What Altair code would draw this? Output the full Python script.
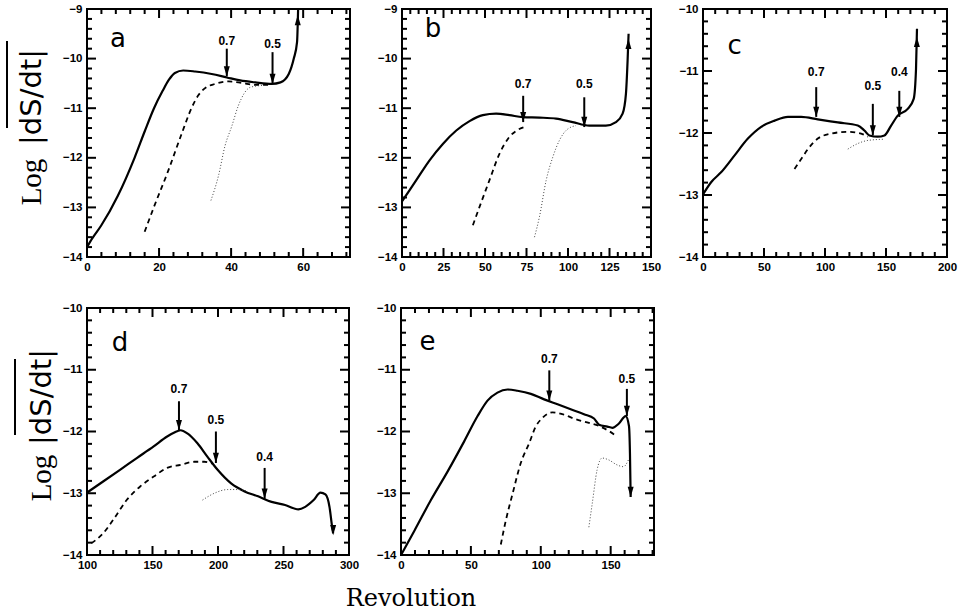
import altair as alt
import pandas as pd

# ---------------- data ----------------
# panel a
a_sol_x = [0, 1.5, 3.9, 8.6, 13.2, 16, 18.6, 21, 22.8, 24.4, 26.7, 30, 34.6, 38.8, 42.5, 46.7, 51.3, 53.7, 56, 57.4, 58.3, 58.6]
a_sol_y = [-13.8, -13.62, -13.37, -12.76, -12.0, -11.47, -11.0, -10.65, -10.42, -10.29, -10.24, -10.26, -10.31, -10.38, -10.44, -10.48, -10.51, -10.48, -10.31, -10.0, -9.67, -9.0]
a_dash_x = [16, 18.8, 22.5, 26.2, 29, 30.9, 32.7, 35.5, 39.3, 43, 46.7, 51.3]
a_dash_y = [-13.49, -12.95, -12.27, -11.53, -11.0, -10.74, -10.6, -10.51, -10.46, -10.49, -10.53, -10.53]
a_dot_x = [34.4, 36.5, 38.3, 40.2, 42, 45.3, 48.6]
a_dot_y = [-12.86, -12.36, -11.76, -11.36, -10.95, -10.58, -10.54]
a_arr_x = [38.8, 51.5]
a_arr_lab = ["0.7", "0.5"]
a_arr_ly = [-9.64, -9.70]
a_arr_top = [-9.8, -9.87]
a_arr_bot = [-10.36, -10.51]
a_end = (58.5, -9.12, "up")

# panel b
b_sol_x = [0, 8.6, 16.6, 24.6, 32.7, 40.7, 48.7, 56.7, 64.7, 72.7, 82.8, 92.8, 102.8, 112.8, 122.8, 128.9, 132.9, 134.9, 135.9, 136.5]
b_sol_y = [-12.88, -12.45, -12.05, -11.72, -11.45, -11.26, -11.14, -11.11, -11.14, -11.18, -11.19, -11.21, -11.28, -11.35, -11.35, -11.28, -11.11, -10.71, -10.04, -9.5]
b_dash_x = [42.7, 46.7, 52.7, 58.7, 64.7, 70.7, 74.7]
b_dash_y = [-13.36, -12.99, -12.45, -11.92, -11.58, -11.42, -11.37]
b_dot_x = [79.8, 82.8, 86.8, 90.8, 94.8, 98.8, 104.8]
b_dot_y = [-13.6, -13.19, -12.46, -11.99, -11.65, -11.45, -11.35]
b_arr_x = [73, 109.8]
b_arr_lab = ["0.7", "0.5"]
b_arr_ly = [-10.51, -10.51]
b_arr_top = [-10.75, -10.78]
b_arr_bot = [-11.28, -11.38]
b_end = (136.4, -9.6, "up")

# panel c
c_sol_x = [0, 6.8, 15, 25.9, 36.8, 47.7, 58.7, 69.6, 80.5, 94.1, 110.5, 126.9, 132.3, 136.4, 143.2, 148.7, 154.2, 159.6, 167.8, 172.7, 174.6, 175.4]
c_sol_y = [-12.99, -12.79, -12.63, -12.36, -12.09, -11.90, -11.80, -11.74, -11.74, -11.78, -11.83, -11.88, -11.96, -12.04, -12.06, -12.04, -11.88, -11.72, -11.61, -11.45, -10.97, -10.32]
c_dash_x = [75, 80.5, 86, 94.1, 105, 118.7, 129.6, 135.1]
c_dash_y = [-12.58, -12.42, -12.26, -12.09, -12.01, -11.98, -12.01, -12.06]
c_dot_x = [118.7, 126.9, 135.1, 148.7]
c_dot_y = [-12.26, -12.17, -12.12, -12.10]
c_arr_x = [92.8, 139.2, 160.9]
c_arr_lab = ["0.7", "0.5", "0.4"]
c_arr_ly = [-11.02, -11.24, -11.02]
c_arr_top = [-11.26, -11.53, -11.32]
c_arr_bot = [-11.74, -12.04, -11.74]
c_end = (175.3, -10.45, "up")

# panel d
d_sol_x = [100, 112.3, 125.2, 138, 150.9, 161.2, 166.3, 171.5, 176.6, 184.3, 192, 199.7, 210, 220.3, 230.6, 240.9, 251.2, 261.4, 266.6, 273, 278.2, 282, 285.1, 287.1, 287.9]
d_sol_y = [-12.99, -12.81, -12.62, -12.43, -12.24, -12.08, -12.02, -11.98, -12.03, -12.19, -12.41, -12.62, -12.84, -12.97, -13.05, -13.14, -13.19, -13.26, -13.22, -13.11, -12.99, -13.02, -13.22, -13.54, -13.65]
d_dash_x = [103.3, 112.3, 120, 130.3, 140.6, 150.9, 161.2, 171.5, 181.7, 189.5, 195.9]
d_dash_y = [-13.81, -13.65, -13.43, -13.11, -12.89, -12.73, -12.59, -12.54, -12.49, -12.49, -12.52]
d_dot_x = [188.2, 197.2, 207.5, 215.2, 222.9]
d_dot_y = [-13.11, -13.0, -12.94, -12.94, -12.97]
d_arr_x = [170.2, 198.4, 235.6]
d_arr_lab = ["0.7", "0.5", "0.4"]
d_arr_ly = [-11.31, -11.81, -12.41]
d_arr_top = [-11.51, -12.0, -12.59]
d_arr_bot = [-11.98, -12.51, -13.09]
d_end = (287.9, -13.68, "down")

# panel e
e_sol_x = [0, 9.5, 21.4, 33.3, 45.2, 54.8, 61.9, 69, 76.2, 83.3, 92.9, 102.4, 112, 121.4, 130.9, 138.1, 141.7, 147.6, 151.2, 155.9, 160.7, 163.1, 163.8, 164.3]
e_sol_y = [-14.0, -13.61, -13.11, -12.65, -12.16, -11.75, -11.50, -11.37, -11.32, -11.34, -11.39, -11.48, -11.56, -11.64, -11.72, -11.79, -11.89, -11.92, -11.94, -11.87, -11.75, -11.91, -12.35, -13.06]
e_dash_x = [71.4, 75, 79.8, 85.7, 91.7, 96.4, 101.2, 108.3, 115.4, 124.9, 134.4, 141.5, 148.6, 154.5]
e_dash_y = [-13.83, -13.44, -13.01, -12.51, -12.19, -11.92, -11.78, -11.69, -11.72, -11.80, -11.86, -11.91, -11.99, -12.08]
e_dot_x = [134.4, 136.8, 140.3, 143.9, 148.6, 154.5, 159.2, 162.7]
e_dot_y = [-13.55, -13.17, -12.62, -12.43, -12.46, -12.54, -12.57, -12.46]
e_arr_x = [106.1, 161.6]
e_arr_lab = ["0.7", "0.5"]
e_arr_ly = [-10.82, -11.15]
e_arr_top = [-11.01, -11.31]
e_arr_bot = [-11.5, -11.75]
e_end = (164.3, -13.06, "down")

# axes
a_xdom, a_xmaj, a_xstep = [0, 73], [0, 20, 40, 60], 4
b_xdom, b_xmaj, b_xstep = [0, 150], [0, 25, 50, 75, 100, 125, 150], 5
c_xdom, c_xmaj, c_xstep = [0, 200], [0, 50, 100, 150, 200], 10
d_xdom, d_xmaj, d_xstep = [100, 300], [100, 150, 200, 250, 300], 10
e_xdom, e_xmaj, e_xstep = [0, 181], [0, 50, 100, 150], 10
ydom_top9 = [-14, -9]
ydom_top10 = [-14, -10]

letters = ["a", "b", "c", "d", "e"]
letter_x = [8.6, 18.6, 25.9, 125.2, 18.9]
letter_y = [-9.6, -9.4, -10.59, -10.57, -10.55]

YT_LOG = "Log"
YT_RATE = "|dS/dt|"
XTITLE = "Revolution"

LF = "Liberation Sans"
SERIF = "Liberation Serif"

DOWN_HEAD = "M-1,-3.4L1,-3.4L0,0Z"
UP_HEAD = "M-1,3.4L1,3.4L0,0Z"


def minor_ticks(dom, step, majors):
    out = []
    v = dom[0]
    while v <= dom[1] + 1e-9:
        if all(abs(v - m) > 1e-9 for m in majors):
            out.append(round(v, 4))
        v += step
    return out


def panel(idx, W, H, xdom, xmaj, xstep, ydom, sol, dash, dot, arr, end,
          ytitle=None, xtitle=False):
    xs = alt.Scale(domain=xdom, nice=False, zero=False)
    ys = alt.Scale(domain=ydom, nice=False, zero=False)
    ymaj = list(range(ydom[0], ydom[1] + 1))
    xaxis = alt.Axis(values=xmaj, ticks=False, domain=False, grid=False, labelFont=LF,
                     labelFontSize=11.5, labelFontWeight="bold", labelPadding=4, title=None,
                     labelFlush=False, labelOverlap=False, format="d", labelColor="black")
    yaxis = alt.Axis(values=ymaj, ticks=False, domain=False, grid=False, labelFont=LF,
                     labelFontSize=11.5, labelFontWeight="bold", labelPadding=5, title=None,
                     labelFlush=False, labelOverlap=False, format="d", labelColor="black")

    def X(f):
        return alt.X(f, type="quantitative", scale=xs, axis=xaxis)

    def Y(f):
        return alt.Y(f, type="quantitative", scale=ys, axis=yaxis)

    layers = []
    sdf = pd.DataFrame({"x": sol[0], "y": sol[1]})
    layers.append(alt.Chart(sdf).mark_line(color="black", strokeWidth=2.2, interpolate="monotone").encode(
        x=X("x"), y=Y("y")))
    ddf = pd.DataFrame({"x": dash[0], "y": dash[1]})
    layers.append(alt.Chart(ddf).mark_line(color="black", strokeWidth=1.8, strokeDash=[5, 4],
                                           interpolate="monotone").encode(x=X("x"), y=Y("y")))
    odf = pd.DataFrame({"x": dot[0], "y": dot[1]})
    layers.append(alt.Chart(odf).mark_line(color="#444444", strokeWidth=1.0, strokeDash=[1, 2],
                                           interpolate="monotone").encode(x=X("x"), y=Y("y")))

    # line segments: arrow shafts + inward frame ticks (tick length converted from px to data units)
    seg = []
    for i in range(len(arr[0])):
        seg.append({"sx": arr[0][i], "sx2": arr[0][i], "sy": arr[3][i], "sy2": arr[4][i]})
    xmin = minor_ticks(xdom, xstep, xmaj)
    ymin = minor_ticks([ydom[0], ydom[1]], 0.2, ymaj)
    yu = (ydom[1] - ydom[0]) / H
    xu = (xdom[1] - xdom[0]) / W
    for vals, ln in ((xmaj, 9), (xmin, 5)):
        for v in vals:
            seg.append({"sx": v, "sx2": v, "sy": ydom[0], "sy2": ydom[0] + ln * yu})
            seg.append({"sx": v, "sx2": v, "sy": ydom[1], "sy2": ydom[1] - ln * yu})
    for vals, ln in ((ymaj, 9), (ymin, 5)):
        for v in vals:
            seg.append({"sx": xdom[0], "sx2": xdom[0] + ln * xu, "sy": v, "sy2": v})
            seg.append({"sx": xdom[1], "sx2": xdom[1] - ln * xu, "sy": v, "sy2": v})
    segdf = pd.DataFrame(seg)
    layers.append(alt.Chart(segdf).mark_rule(color="black", strokeWidth=2).encode(
        x=X("sx"), x2="sx2:Q", y=Y("sy"), y2="sy2:Q"))

    # arrow heads and labels
    adf = pd.DataFrame({"x": arr[0], "lab": arr[1], "ly": arr[2], "top": arr[3], "bot": arr[4]})
    layers.append(alt.Chart(adf).mark_point(shape=DOWN_HEAD, size=36, filled=True, color="black",
                                            opacity=1).encode(x=X("x"), y=Y("bot")))
    layers.append(alt.Chart(adf).mark_text(font=LF, fontSize=12, fontWeight="bold", color="black",
                                           baseline="middle").encode(
        x=X("x"), y=Y("ly"), text="lab:N"))

    # end-of-curve arrow head
    edf = pd.DataFrame({"x": [end[0]], "y": [end[1]]})
    layers.append(alt.Chart(edf).mark_point(shape=UP_HEAD if end[2] == "up" else DOWN_HEAD, size=36,
                                            filled=True, color="black", opacity=1).encode(
        x=X("x"), y=Y("y")))

    # panel letter
    ldf = pd.DataFrame({"x": [letter_x[idx]], "y": [letter_y[idx]], "t": [letters[idx]]})
    layers.append(alt.Chart(ldf).mark_text(font="DejaVu Sans", fontSize=26, color="black",
                                           baseline="middle").encode(
        x=X("x"), y=Y("y"), text="t:N"))

    if ytitle is not None:
        bx, log_cy, rate_cy, ox, oy1, oy2 = ytitle
        t1 = pd.DataFrame({"t": [YT_LOG]})
        layers.append(alt.Chart(t1).mark_text(font=SERIF, fontSize=29, angle=270, align="center",
                                              baseline="alphabetic", color="black").encode(
            x=alt.value(bx), y=alt.value(log_cy), text="t:N"))
        t2 = pd.DataFrame({"t": [YT_RATE]})
        layers.append(alt.Chart(t2).mark_text(font="DejaVu Sans", fontSize=29, angle=270, align="center",
                                              baseline="alphabetic", color="black").encode(
            x=alt.value(bx), y=alt.value(rate_cy), text="t:N"))
        layers.append(alt.Chart(t2).mark_rule(color="black", strokeWidth=2).encode(
            x=alt.value(ox), y=alt.value(oy1), y2=alt.value(oy2)))
    if xtitle:
        tdf = pd.DataFrame({"t": [XTITLE]})
        layers.append(alt.Chart(tdf).mark_text(font="DejaVu Serif", fontSize=24, align="center",
                                               baseline="middle", color="black").encode(
            x=alt.value(10), y=alt.value(H + 44), text="t:N"))

    return alt.layer(*layers).properties(width=W, height=H)


pa = panel(0, 263, 248, a_xdom, a_xmaj, a_xstep, ydom_top9, (a_sol_x, a_sol_y), (a_dash_x, a_dash_y),
           (a_dot_x, a_dot_y), (a_arr_x, a_arr_lab, a_arr_ly, a_arr_top, a_arr_bot), a_end,
           ytitle=(-46, 173, 88, -80, 32, 119))
pb = panel(1, 249, 248, b_xdom, b_xmaj, b_xstep, ydom_top9, (b_sol_x, b_sol_y), (b_dash_x, b_dash_y),
           (b_dot_x, b_dot_y), (b_arr_x, b_arr_lab, b_arr_ly, b_arr_top, b_arr_bot), b_end)
pc = panel(2, 244, 248, c_xdom, c_xmaj, c_xstep, ydom_top10, (c_sol_x, c_sol_y), (c_dash_x, c_dash_y),
           (c_dot_x, c_dot_y), (c_arr_x, c_arr_lab, c_arr_ly, c_arr_top, c_arr_bot), c_end)
pd_ = panel(3, 262, 247, d_xdom, d_xmaj, d_xstep, ydom_top10, (d_sol_x, d_sol_y), (d_dash_x, d_dash_y),
            (d_dot_x, d_dot_y), (d_arr_x, d_arr_lab, d_arr_ly, d_arr_top, d_arr_bot), d_end,
            ytitle=(-36, 170, 89, -72, 51, 127))
pe = panel(4, 253, 247, e_xdom, e_xmaj, e_xstep, ydom_top10, (e_sol_x, e_sol_y), (e_dash_x, e_dash_y),
           (e_dot_x, e_dot_y), (e_arr_x, e_arr_lab, e_arr_ly, e_arr_top, e_arr_bot), e_end, xtitle=True)

top = alt.hconcat(pa, pb, pc, spacing=52, bounds="flush")
bottom = alt.hconcat(pd_, pe, spacing=52, bounds="flush")
chart = alt.vconcat(top, bottom, spacing=27).properties(
    padding={"left": 5, "top": 2, "right": 0, "bottom": 0},
    background="white",
).configure_view(stroke="black", strokeWidth=2)

chart.save("out.html", embed_options={"renderer": "svg", "actions": False})
